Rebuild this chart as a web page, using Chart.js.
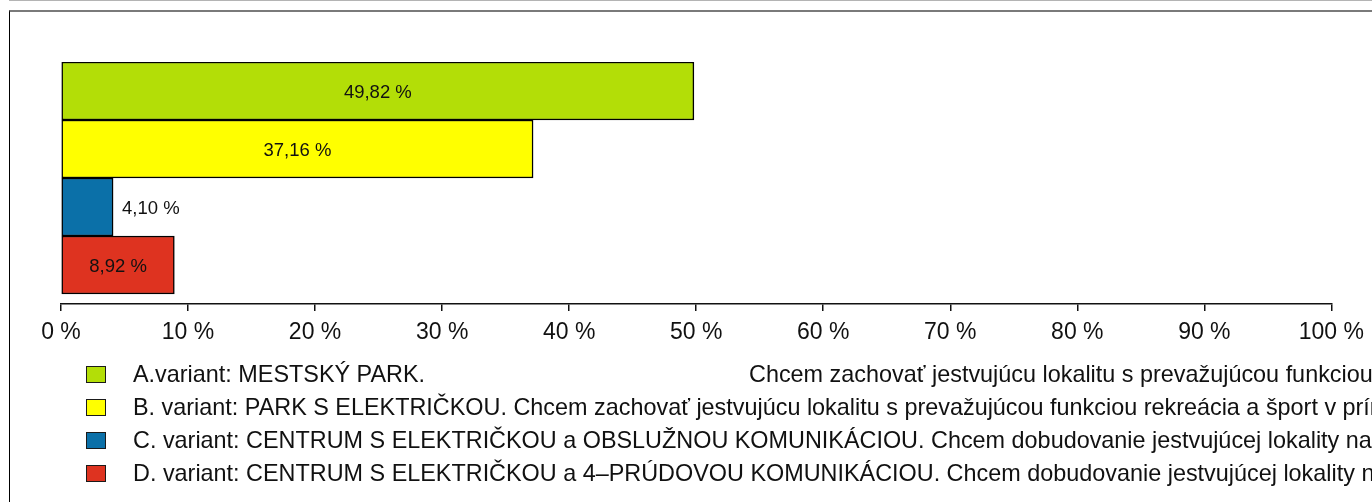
<!DOCTYPE html>
<html>
<head>
<meta charset="utf-8">
<script src="https://cdn.jsdelivr.net/npm/chart.js@4"></script>
<style>
  html, body { margin: 0; padding: 0; background: #fff; overflow: hidden; }
  body { width: 1372px; height: 502px; position: relative; font-family: 'Liberation Sans', Arial, Helvetica, sans-serif; }
  #topline { position: absolute; left: 9px; right: 0; top: 0; height: 1px; background: #b4b4b4; }
  #frame { position: absolute; left: 9px; right: -2px; top: 10px; bottom: -2px; border-top: 2px solid #7a7a7a; border-left: 1px solid #000; }
  #chart { position: absolute; left: 0; top: 0; }
  #legend { position: absolute; left: 86px; top: 358px; right: 0; }
  .legend-row { height: 33px; line-height: 33px; white-space: pre; tab-size: 616px; font-size: 23.4px; color: #111; position: relative; }
  .legend-box { position: absolute; left: 0; top: 8px; width: 18px; height: 15px; border: 1px solid #1a1a1a; }
  .legend-text { position: absolute; left: 47px; top: 0; }
</style>
</head>
<body>
<div id="topline"></div>
<div id="frame"></div>
<canvas id="chart" width="1372" height="502"></canvas>
<div id="legend"></div>
<script>
// Chart data
const categories = ['A', 'B', 'C', 'D'];
const shares = [49.82, 37.16, 4.10, 8.92];
const legendLabels = [
  'A.variant: MESTSKÝ PARK.\tChcem zachovať jestvujúcu lokalitu s prevažujúcou funkciou rekreácia a šport.',
  'B. variant: PARK S ELEKTRIČKOU. Chcem zachovať jestvujúcu lokalitu s prevažujúcou funkciou rekreácia a šport v prírodnom prostredí.',
  'C. variant: CENTRUM S ELEKTRIČKOU a OBSLUŽNOU KOMUNIKÁCIOU. Chcem dobudovanie jestvujúcej lokality na centrum.',
  'D. variant: CENTRUM S ELEKTRIČKOU a 4–PRÚDOVOU KOMUNIKÁCIOU. Chcem dobudovanie jestvujúcej lokality na centrum.'
];
const xTickValues = [0, 10, 20, 30, 40, 50, 60, 70, 80, 90, 100];

const barColors = ['#b3de07', '#ffff00', '#0b70a8', '#de3320'];
const FONT = "'Liberation Sans', Arial, Helvetica, sans-serif";

// Percent label with decimal comma
const fmt = v => v.toFixed(2).replace('.', ',') + ' %';

// Value labels inside / next to bars
const barLabels = {
  id: 'barLabels',
  afterDatasetsDraw(chart) {
    const ctx = chart.ctx;
    const meta = chart.getDatasetMeta(0);
    ctx.save();
    ctx.font = '18.5px ' + FONT;
    ctx.fillStyle = '#111';
    ctx.textBaseline = 'middle';
    meta.data.forEach((bar, i) => {
      const text = fmt(shares[i]);
      const w = ctx.measureText(text).width;
      const left = bar.base;
      if (bar.x - left > w + 12) {
        ctx.textAlign = 'center';
        ctx.fillText(text, (left + bar.x) / 2, bar.y + 2);
      } else {
        ctx.textAlign = 'left';
        ctx.fillText(text, bar.x + 9, bar.y + 2);
      }
    });
    ctx.restore();
  }
};

// HTML legend built from the chart data
const htmlLegend = {
  id: 'htmlLegend',
  afterUpdate(chart) {
    const box = document.getElementById('legend');
    const ds = chart.data.datasets[0];
    box.innerHTML = legendLabels.map((label, i) => `
      <div class="legend-row">
        <span class="legend-box" style="background:${ds.backgroundColor[i]}"></span>
        <span class="legend-text">${label}</span>
      </div>`).join('');
  }
};

const gap = 10 / 58; // small space between last bar and axis (in category units)

new Chart(document.getElementById('chart'), {
  type: 'bar',
  data: {
    datasets: [{
      data: shares.map((v, i) => ({ x: v, y: i })),
      backgroundColor: barColors,
      borderColor: '#000',
      borderWidth: 1.5,
      borderSkipped: false,
      barPercentage: 1,
      categoryPercentage: 1
    }]
  },
  options: {
    indexAxis: 'y',
    responsive: false,
    animation: false,
    events: [],
    layout: { padding: { left: 61, right: 39, top: 62, bottom: 148 } },
    plugins: {
      legend: { display: false },
      tooltip: { enabled: false }
    },
    scales: {
      y: {
        type: 'linear',
        reverse: true,
        offset: false,
        bounds: 'data',
        min: -0.5,
        max: categories.length - 0.5 + gap,
        grid: { display: false, offset: false },
        border: { display: false },
        ticks: { display: false },
        afterBuildTicks: scale => { scale.ticks = categories.map((c, i) => ({ value: i })); },
        afterFit: scale => { scale.width = 0; }
      },
      x: {
        type: 'linear',
        min: 0,
        max: 100,
        afterBuildTicks: scale => { scale.ticks = xTickValues.map(v => ({ value: v })); },
        afterFit: scale => { scale.height = 50; },
        grid: {
          drawOnChartArea: false,
          drawTicks: true,
          tickLength: 7,
          color: '#111',
          lineWidth: 1.5
        },
        border: { display: true, color: '#111', width: 1.5 },
        ticks: {
          padding: 8,
          maxRotation: 0,
          autoSkip: false,
          color: '#111',
          font: { family: FONT, size: 23 },
          callback: v => v + ' %'
        }
      }
    }
  },
  plugins: [barLabels, htmlLegend]
});
</script>
</body>
</html>
